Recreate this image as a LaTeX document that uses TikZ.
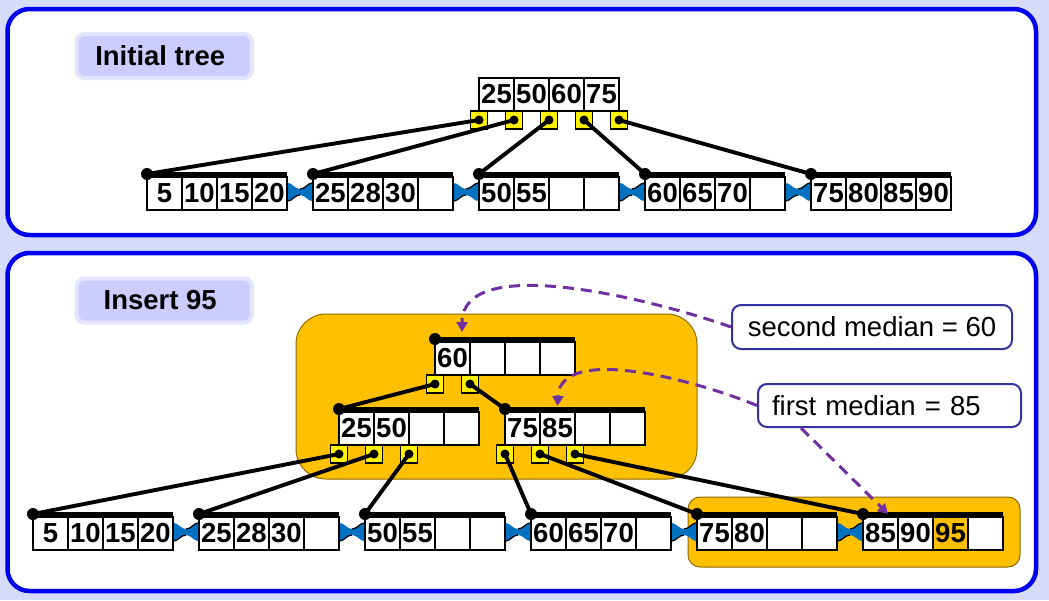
\documentclass[tikz,border=0pt]{standalone}
\usepackage{fontspec}
\setmainfont{Liberation Sans}
\usetikzlibrary{arrows.meta}
\definecolor{bgc}{RGB}{214,219,250}
\definecolor{panelblue}{RGB}{0,0,240}
\definecolor{lblfill}{RGB}{204,204,255}
\definecolor{lblborder}{RGB}{228,228,255}
\definecolor{orng}{RGB}{255,192,0}
\definecolor{bowblue}{RGB}{0,112,192}
\definecolor{purp}{RGB}{112,48,160}
\definecolor{callb}{RGB}{51,51,160}
\tikzset{
  cell/.style={draw=black, line width=1.8pt, fill=white, minimum width=35pt,
    minimum height=33pt, inner sep=0pt, outer sep=0pt, anchor=north west,
    font=\fontsize{27.5}{27.5}\selectfont\bfseries},
  ptr/.style={draw=black, line width=1.4pt, fill=yellow, minimum width=17pt,
    minimum height=18pt, inner sep=0pt, outer sep=0pt},
  link/.style={line width=3.9pt, black},
  panel/.style={draw=panelblue, fill=white, line width=4.5pt, rounded corners=22pt},
  lbl/.style={draw=lblborder, fill=lblfill, line width=4pt, rounded corners=8pt,
    minimum width=175.5pt, minimum height=44pt, inner sep=0pt,
    font=\fontsize{27.5}{27.5}\selectfont\bfseries},
  callout/.style={draw=callb, fill=white, line width=2pt, rounded corners=9pt,
    inner ysep=0pt, font=\fontsize{27.5}{27.5}\selectfont},
  hint/.style={draw=purp, line width=3pt, dash pattern=on 11pt off 7pt,
    -{Triangle[length=10pt,width=11pt]}},
  orangebox/.style={fill=orng, draw=black!45!orng, line width=1pt}
}
\newcommand{\kcells}[7]{%
  \node[cell] (#1-1) at (#2,#3) {#4};
  \node[cell] (#1-2) at (#1-1.north east) {#5};
  \node[cell] (#1-3) at (#1-2.north east) {#6};
  \node[cell] (#1-4) at (#1-3.north east) {#7};
}
\newcommand{\kbar}[1]{%
  \draw[line width=5pt] ([yshift=2.5pt]#1-1.north west) -- ([yshift=2.5pt]#1-4.north east);
  \coordinate (#1-dot) at ([yshift=3pt]#1-1.north west);
  \fill (#1-dot) circle (6pt);
}
\newcommand{\kbow}[1]{%
  \begin{scope}[shift={(#1-4.north east)}]
    \fill[bowblue] (1,6) .. controls (5,6) and (8,12) .. (13,12)
      .. controls (18,12) and (21,6) .. (25,6) -- (25,24)
      .. controls (21,24) and (18,18) .. (13,18)
      .. controls (8,18) and (5,24) .. (1,24) -- cycle;
    \draw[line width=1.2pt] (13,12) .. controls (18,12) and (21,6) .. (25,6);
    \draw[line width=1.2pt] (1,24) .. controls (5,24) and (8,18) .. (13,18);
  \end{scope}}
\newcommand{\kptr}[2]{%
  \node[ptr] (#1) at ([yshift=-9pt]#2) {};
  \fill (#1) circle (4.5pt);
}
\begin{document}
\begin{tikzpicture}[x=1pt,y=-1pt]
\useasboundingbox (0,0) rectangle (1049,600);
\fill[bgc] (0,0) rectangle (1049,600);
% panels
\draw[panel] (7.5,9) rectangle (1036,235);
\draw[panel] (7.5,253) rectangle (1036,591);
\node[lbl] (t1) at (164.25,56) {\kern-8pt Initial tree};
\node[lbl] (t2) at (164.25,300.5) {\kern-8pt Insert 95};
% ---------- initial tree ----------
\kcells{root}{479}{78}{25}{50}{60}{75}
\kcells{la}{147}{177}{5}{10}{15}{20}
\kcells{lb}{313}{177}{25}{28}{30}{}
\kcells{lc}{479}{177}{50}{55}{}{}
\kcells{ld}{645}{177}{60}{65}{70}{}
\kcells{le}{811}{177}{75}{80}{85}{90}
\foreach \n in {la,lb,lc,ld,le} {\kbar{\n}}
\kbow{la}\kbow{lb}\kbow{lc}\kbow{ld}
\kptr{root-p0}{root-1.south west}
\kptr{root-p1}{root-1.south east}
\kptr{root-p2}{root-2.south east}
\kptr{root-p3}{root-3.south east}
\kptr{root-p4}{root-4.south east}
\draw[link] (root-p0.center) -- (la-dot);
\draw[link] (root-p1.center) -- (lb-dot);
\draw[link] (root-p2.center) -- (lc-dot);
\draw[link] (root-p3.center) -- (ld-dot);
\draw[link] (root-p4.center) -- (le-dot);
% ---------- insert 95 ----------
\draw[orangebox, rounded corners=30pt] (296,314) rectangle (697,479);
\draw[orangebox, rounded corners=12pt] (688,497) rectangle (1020,567);
\kcells{nr}{435}{342}{60}{}{}{}
\kcells{na}{339}{412}{25}{50}{}{}
\kcells{nb}{505}{412}{75}{85}{}{}
\kcells{ba}{33}{517}{5}{10}{15}{20}
\kcells{bb}{199}{517}{25}{28}{30}{}
\kcells{bc}{365}{517}{50}{55}{}{}
\kcells{bd}{531}{517}{60}{65}{70}{}
\kcells{be}{697}{517}{75}{80}{}{}
\node[cell] (bf-1) at (863,517) {85};
\node[cell] (bf-2) at (bf-1.north east) {90};
\node[cell, fill=orng] (bf-3) at (bf-2.north east) {95};
\node[cell] (bf-4) at (bf-3.north east) {};
\foreach \n in {nr,na,nb,ba,bb,bc,bd,be,bf} {\kbar{\n}}
\kbow{ba}\kbow{bb}\kbow{bc}\kbow{bd}\kbow{be}
\kptr{nr-p0}{nr-1.south west}
\kptr{nr-p1}{nr-1.south east}
\kptr{na-p0}{na-1.south west}
\kptr{na-p1}{na-1.south east}
\kptr{na-p2}{na-2.south east}
\kptr{nb-p0}{nb-1.south west}
\kptr{nb-p1}{nb-1.south east}
\kptr{nb-p2}{nb-2.south east}
\draw[link] (nr-p0.center) -- (na-dot);
\draw[link] (nr-p1.center) -- (nb-dot);
\draw[link] (na-p0.center) -- (ba-dot);
\draw[link] (na-p1.center) -- (bb-dot);
\draw[link] (na-p2.center) -- (bc-dot);
\draw[link] (nb-p0.center) -- (bd-dot);
\draw[link] (nb-p1.center) -- (be-dot);
\draw[link] (nb-p2.center) -- (bf-dot);
% callouts
\node[callout, minimum width=280pt, minimum height=44pt] (sm) at (872,327) {second median = 60};
\node[callout, text width=235pt, inner xsep=14pt, minimum height=43pt, align=left] (fm) at (889.5,405.5) {first median = 85};
\draw[hint] (sm.west) .. controls (655,300) and (462,251) .. ([xshift=9.5pt,yshift=10pt]nr-1.north);
\draw[hint] (fm.west) .. controls (690,378) and (560,345) .. ([yshift=6pt]nb-2.north);
\draw[hint] ([xshift=44pt]fm.south west) -- ([xshift=7.5pt,yshift=3pt]bf-1.north);
\end{tikzpicture}
\end{document}
